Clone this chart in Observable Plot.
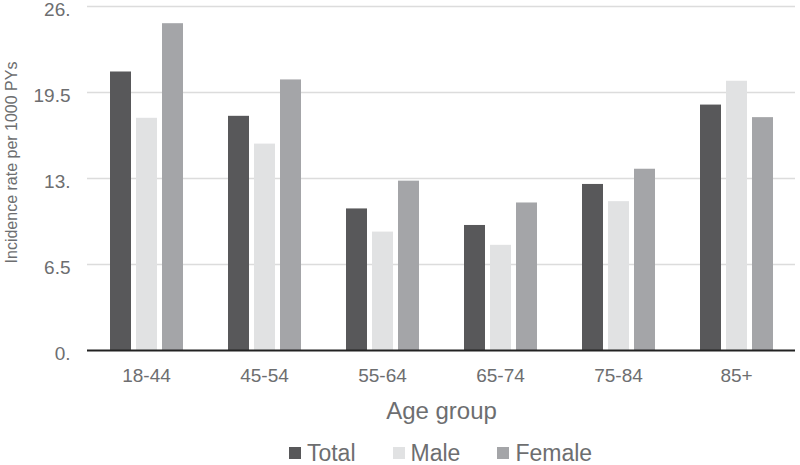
<!DOCTYPE html>
<html><head><meta charset="utf-8">
<script src="https://cdn.jsdelivr.net/npm/d3@7"></script>
<script src="https://cdn.jsdelivr.net/npm/@observablehq/plot@0.6"></script>
<style>
body{margin:0;background:#fff;font-family:"Liberation Sans",Arial,sans-serif;}
#wrap{position:relative;width:800px;height:465px;overflow:hidden}
g[aria-label="fx-axis label"]{font-size:24px}
#legend{position:absolute;left:84px;width:713px;top:441px;display:flex;justify-content:center;gap:37px;font-size:23px;color:#6d6e70;line-height:24px}
.item{display:flex;align-items:center;gap:6px}
.sw{width:12px;height:12px;display:inline-block}
</style></head><body><div id="wrap"></div>
<script>
const ageGroups = ["18-44","45-54","55-64","65-74","75-84","85+"];
const series = ["Total","Male","Female"];
const totalValues = [21.05, 17.7, 10.7, 9.45, 12.55, 18.55];
const maleValues = [17.55, 15.6, 8.95, 7.95, 11.25, 20.35];
const femaleValues = [24.7, 20.45, 12.8, 11.15, 13.7, 17.6];
const seriesColors = ["#58585a","#e1e2e3","#a4a5a8"];
const yTicks = [0, 6.5, 13, 19.5, 26];
const yTickLabels = ["0.", "6.5", "13.", "19.5", "26."];
const yTitle = "Incidence rate per 1000 PYs";
const xTitle = "Age group";

const valuesBySeries = [totalValues, maleValues, femaleValues];
const data = [];
ageGroups.forEach((age, i) => {
  series.forEach((s, j) => data.push({age, series: s, value: valuesBySeries[j][i]}));
});

const chart = Plot.plot({
  width: 800, height: 432,
  marginLeft: 84, marginRight: 3, marginTop: 6, marginBottom: 82,
  style: {fontFamily: '"Liberation Sans", Arial, sans-serif', fontSize: "19px", color: "#6d6e70", background: "#fff", overflow: "visible"},
  fx: {domain: ageGroups, padding: 0, label: xTitle},
  x: {domain: series, paddingInner: 0.21, paddingOuter: 0.83, axis: null},
  y: {domain: [0, 26], axis: null},
  color: {domain: series, range: seriesColors},
  marks: [
    Plot.ruleY(yTicks.filter(d => d > 0), {stroke: "#dcdcdc", strokeWidth: 1.5}),
    Plot.barY(data, {fx: "age", x: "series", y: "value", fill: "series"}),
    Plot.ruleY([0], {stroke: "#222", strokeWidth: 2}),
    Plot.axisY({ticks: yTicks, tickFormat: d => yTickLabels[yTicks.indexOf(d)], tickSize: 0, tickPadding: 17, label: null, dy: 3}),
    Plot.axisFx({anchor: "bottom", tickSize: 0, tickPadding: 18, label: xTitle, labelOffset: 68}),
    Plot.text([{age: ageGroups[0], t: yTitle}], {fx: "age", text: "t", frameAnchor: "left", textAnchor: "middle", lineAnchor: "middle", rotate: -90, dx: -76, dy: -16, fontSize: 16, fill: "#6d6e70"})
  ]
});
const wrap = document.getElementById("wrap");
wrap.appendChild(chart);

const legend = document.createElement("div");
legend.id = "legend";
series.forEach((s, j) => {
  const item = document.createElement("div");
  item.className = "item";
  const sw = document.createElement("span");
  sw.className = "sw";
  sw.style.background = seriesColors[j];
  const t = document.createElement("span");
  t.textContent = s;
  item.appendChild(sw); item.appendChild(t);
  legend.appendChild(item);
});
wrap.appendChild(legend);
</script></body></html>
